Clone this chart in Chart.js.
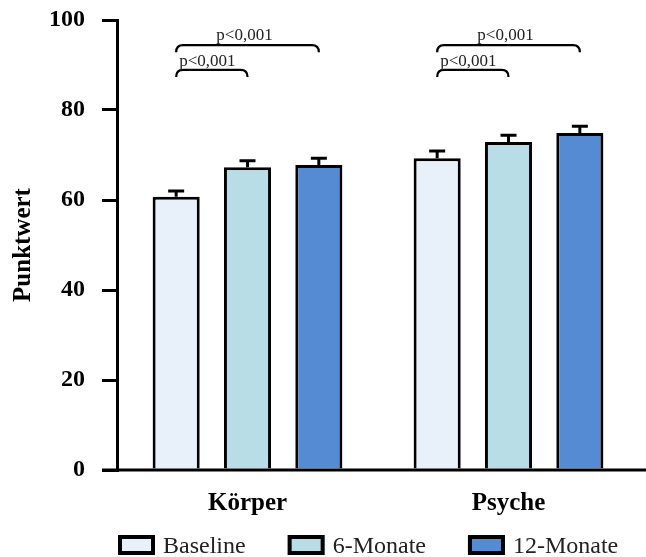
<!DOCTYPE html>
<html>
<head>
<meta charset="utf-8">
<script src="https://cdn.jsdelivr.net/npm/chart.js@4"></script>
<style>
  html, body { margin: 0; padding: 0; background: #ffffff; }
  #wrap { width: 646px; height: 557px; }
</style>
</head>
<body>
<div id="wrap"><canvas id="c" width="646" height="557"></canvas></div>
<script>
// Scores at baseline, after 6 months and after 12 months
const categories = ['Körper', 'Psyche'];
const seriesNames = ['Baseline', '6-Monate', '12-Monate'];
const baseline = [60.7, 69.3];
const sixMonths = [67.3, 72.9];
const twelveMonths = [67.8, 74.9];
// Upper error (SEM) for each bar
const baselineErr = [1.3, 1.6];
const sixMonthsErr = [1.4, 1.5];
const twelveMonthsErr = [1.5, 1.5];
const yTicks = [0, 20, 40, 60, 80, 100];
// Significance brackets: category, from series, to series, height, text
const bracketCategory = [0, 0, 1, 1];
const bracketFrom = [0, 0, 0, 0];
const bracketTo = [2, 1, 2, 1];
const bracketLevel = [94.4, 88.9, 94.4, 88.9];
const bracketText = ['p<0,001', 'p<0,001', 'p<0,001', 'p<0,001'];

const SERIF = '"Liberation Serif", "Times New Roman", Times, serif';
const colors = ['#e8f0fa', '#b8dde6', '#558bd3'];
const values = [baseline, sixMonths, twelveMonths];
const errors = [baselineErr, sixMonthsErr, twelveMonthsErr];

const errorBars = {
  id: 'errorBars',
  afterDatasetsDraw(chart) {
    const ctx = chart.ctx;
    const y = chart.scales.y;
    ctx.save();
    ctx.strokeStyle = '#000';
    ctx.lineWidth = 3;
    chart.data.datasets.forEach((ds, di) => {
      const meta = chart.getDatasetMeta(di);
      meta.data.forEach((bar, i) => {
        const top = y.getPixelForValue(ds.data[i] + ds.errors[i]);
        ctx.beginPath();
        ctx.moveTo(bar.x, bar.y);
        ctx.lineTo(bar.x, top);
        ctx.moveTo(bar.x - 8, top);
        ctx.lineTo(bar.x + 8, top);
        ctx.stroke();
      });
    });
    ctx.restore();
  }
};

const brackets = {
  id: 'brackets',
  afterDraw(chart) {
    const ctx = chart.ctx;
    const y = chart.scales.y;
    ctx.save();
    ctx.strokeStyle = '#000';
    ctx.lineWidth = 2.2;
    ctx.fillStyle = '#222';
    ctx.font = '17px ' + SERIF;
    ctx.textBaseline = 'alphabetic';
    bracketCategory.forEach((cat, k) => {
      const x1 = chart.getDatasetMeta(bracketFrom[k]).data[cat].x;
      const x2 = chart.getDatasetMeta(bracketTo[k]).data[cat].x;
      const py = y.getPixelForValue(bracketLevel[k]);
      const d = 7;
      ctx.beginPath();
      ctx.moveTo(x1, py + d);
      ctx.quadraticCurveTo(x1, py, x1 + d, py);
      ctx.lineTo(x2 - d, py);
      ctx.quadraticCurveTo(x2, py, x2, py + d);
      ctx.stroke();
      if (bracketTo[k] - bracketFrom[k] > 1) {
        ctx.textAlign = 'center';
        ctx.fillText(bracketText[k], (x1 + x2) / 2 - 3, py - 5);
      } else {
        ctx.textAlign = 'left';
        ctx.fillText(bracketText[k], x1 + 3, py - 4);
      }
    });
    ctx.restore();
  }
};

// x axis line runs from the y axis to the right edge of the canvas
const baseLine = {
  id: 'baseLine',
  afterDatasetsDraw(chart) {
    const ctx = chart.ctx;
    const y0 = chart.scales.y.getPixelForValue(0);
    ctx.save();
    ctx.strokeStyle = '#000';
    ctx.lineWidth = 3;
    ctx.beginPath();
    ctx.moveTo(chart.chartArea.left - 15, y0);
    ctx.lineTo(chart.width, y0);
    ctx.stroke();
    ctx.restore();
  }
};

const boxLegend = {
  id: 'boxLegend',
  afterDraw(chart) {
    const ctx = chart.ctx;
    ctx.save();
    ctx.font = '24px ' + SERIF;
    ctx.textBaseline = 'alphabetic';
    ctx.textAlign = 'left';
    let x = 118;
    const top = 535, bw = 37, bh = 20;
    chart.data.datasets.forEach((ds) => {
      ctx.fillStyle = ds.backgroundColor;
      ctx.fillRect(x, top, bw, bh);
      ctx.lineWidth = 4;
      ctx.strokeStyle = '#000';
      ctx.strokeRect(x + 2, top + 2, bw - 4, bh - 4);
      ctx.fillStyle = '#222';
      const tx = x + bw + 8;
      ctx.fillText(ds.label, tx, 553);
      x = tx + ctx.measureText(ds.label).width + 42;
    });
    ctx.restore();
  }
};

new Chart(document.getElementById('c'), {
  type: 'bar',
  data: {
    labels: categories,
    datasets: seriesNames.map((name, i) => ({
      label: name,
      data: values[i],
      errors: errors[i],
      backgroundColor: colors[i],
      borderColor: '#000',
      borderWidth: 3,
      borderSkipped: 'start',
      categoryPercentage: 0.82,
      barPercentage: 0.66
    }))
  },
  options: {
    responsive: false,
    animation: false,
    devicePixelRatio: 1,
    layout: { padding: { top: 20, right: 7, bottom: 42, left: 0 } },
    plugins: { legend: { display: false }, tooltip: { enabled: false } },
    scales: {
      x: {
        grid: { display: false, drawTicks: false },
        border: { display: false },
        ticks: {
          color: '#000',
          padding: 19,
          font: { family: SERIF, size: 25, weight: 'bold' }
        },
        afterFit(scale) { scale.height = 45; }
      },
      y: {
        min: 0,
        max: 100,
        afterBuildTicks(scale) { scale.ticks = yTicks.map(v => ({ value: v })); },
        grid: {
          drawOnChartArea: false,
          drawTicks: true,
          tickLength: 15,
          lineWidth: 3,
          color: '#000'
        },
        border: { display: true, width: 3, color: '#000' },
        ticks: {
          color: '#000',
          padding: 17,
          font: { family: SERIF, size: 24, weight: 'bold' }
        },
        title: {
          display: true,
          text: 'Punktwert',
          color: '#000',
          padding: { top: 9, bottom: 0 },
          font: { family: SERIF, size: 25, weight: 'bold' }
        },
        afterFit(scale) {
          scale.width = 117;
          scale.paddingTop = 0;
          scale.paddingBottom = 0;
        }
      }
    }
  },
  plugins: [errorBars, baseLine, brackets, boxLegend]
});
</script>
</body>
</html>
